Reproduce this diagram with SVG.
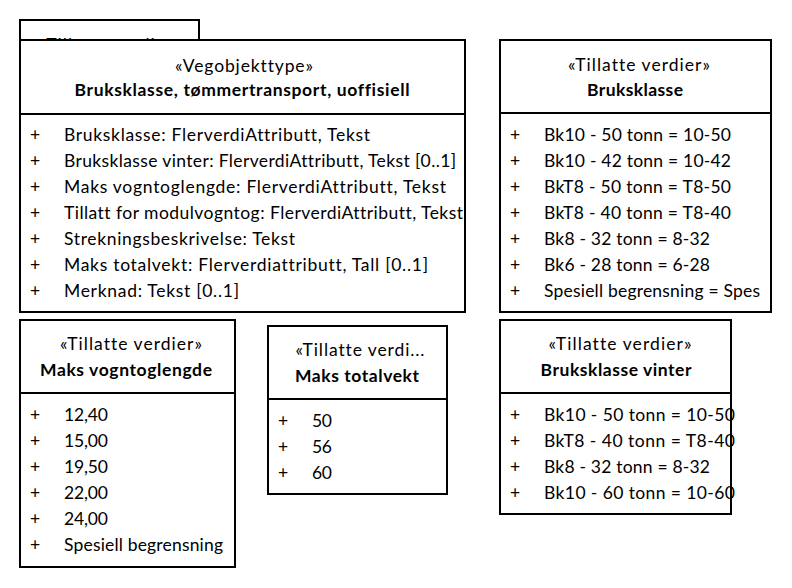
<svg xmlns="http://www.w3.org/2000/svg" width="792" height="588" viewBox="0 0 792 588">
  <style>
    .box { fill: #ffffff; stroke: #000000; stroke-width: 2; }
    .div { stroke: #000000; stroke-width: 2; }
    text { font-family: Lato, "Open Sans", "Liberation Sans", sans-serif; font-size: 17.5px; fill: #000000;
           font-variant-ligatures: none; font-feature-settings: "liga" 0, "clig" 0, "dlig" 0; }
    .st { text-anchor: middle; }
    .nm { text-anchor: middle; font-weight: bold; }
    .pl { text-anchor: middle; }
  </style>
  <rect width="792" height="588" fill="#ffffff"/>

  <!-- Enumeration partly hidden behind the main class -->
  <g id="tillatte-bak">
    <rect class="box" x="20" y="20" width="179" height="60"/>
    <text class="st" x="110" y="51" textLength="142">«Tillatte verdier»</text>
  </g>

  <!-- Main class -->
  <g id="bruksklasse-tommertransport">
    <rect class="box" x="20" y="40" width="445" height="272"/>
    <line class="div" x1="20" y1="114" x2="465" y2="114"/>
    <text class="st" x="244" y="72" textLength="138">«Vegobjekttype»</text>
    <text class="nm" x="242" y="96" textLength="335">Bruksklasse, tømmertransport, uoffisiell</text>
    <text class="pl" x="35" y="141">+</text>
    <text x="64" y="141" textLength="306">Bruksklasse: FlerverdiAttributt, Tekst</text>
    <text class="pl" x="35" y="167">+</text>
    <text x="64" y="167" textLength="392">Bruksklasse vinter: FlerverdiAttributt, Tekst [0..1]</text>
    <text class="pl" x="35" y="193">+</text>
    <text x="64" y="193" textLength="382">Maks vogntoglengde: FlerverdiAttributt, Tekst</text>
    <text class="pl" x="35" y="219">+</text>
    <text x="64" y="219" textLength="399">Tillatt for modulvogntog: FlerverdiAttributt, Tekst</text>
    <text class="pl" x="35" y="245">+</text>
    <text x="64" y="245" textLength="231">Strekningsbeskrivelse: Tekst</text>
    <text class="pl" x="35" y="271">+</text>
    <text x="64" y="271" textLength="364">Maks totalvekt: Flerverdiattributt, Tall [0..1]</text>
    <text class="pl" x="35" y="297">+</text>
    <text x="64" y="297" textLength="175">Merknad: Tekst [0..1]</text>
  </g>

  <!-- Bruksklasse values -->
  <g id="bruksklasse">
    <rect class="box" x="500" y="40" width="271" height="272"/>
    <line class="div" x1="500" y1="113" x2="771" y2="113"/>
    <text class="st" x="639" y="71" textLength="142">«Tillatte verdier»</text>
    <text class="nm" x="635" y="96" textLength="96">Bruksklasse</text>
    <text class="pl" x="515" y="141">+</text>
    <text x="544" y="141" textLength="187">Bk10 - 50 tonn = 10-50</text>
    <text class="pl" x="515" y="167">+</text>
    <text x="544" y="167" textLength="187">Bk10 - 42 tonn = 10-42</text>
    <text class="pl" x="515" y="193">+</text>
    <text x="544" y="193" textLength="187">BkT8 - 50 tonn = T8-50</text>
    <text class="pl" x="515" y="219">+</text>
    <text x="544" y="219" textLength="187">BkT8 - 40 tonn = T8-40</text>
    <text class="pl" x="515" y="245">+</text>
    <text x="544" y="245" textLength="166">Bk8 - 32 tonn = 8-32</text>
    <text class="pl" x="515" y="271">+</text>
    <text x="544" y="271" textLength="166">Bk6 - 28 tonn = 6-28</text>
    <text class="pl" x="515" y="297">+</text>
    <text x="544" y="297" textLength="216">Spesiell begrensning = Spes</text>
  </g>

  <!-- Maks vogntoglengde values -->
  <g id="maks-vogntoglengde">
    <rect class="box" x="20" y="320" width="215" height="247"/>
    <line class="div" x1="20" y1="393" x2="235" y2="393"/>
    <text class="st" x="131" y="350" textLength="142">«Tillatte verdier»</text>
    <text class="nm" x="126" y="376" textLength="172">Maks vogntoglengde</text>
    <text class="pl" x="35" y="421">+</text>
    <text x="64" y="421" textLength="44">12,40</text>
    <text class="pl" x="35" y="447">+</text>
    <text x="64" y="447" textLength="44">15,00</text>
    <text class="pl" x="35" y="473">+</text>
    <text x="64" y="473" textLength="44">19,50</text>
    <text class="pl" x="35" y="499">+</text>
    <text x="64" y="499" textLength="44">22,00</text>
    <text class="pl" x="35" y="525">+</text>
    <text x="64" y="525" textLength="44">24,00</text>
    <text class="pl" x="35" y="551">+</text>
    <text x="64" y="551" textLength="159">Spesiell begrensning</text>
  </g>

  <!-- Maks totalvekt values -->
  <g id="maks-totalvekt">
    <rect class="box" x="268" y="326" width="179" height="168"/>
    <line class="div" x1="268" y1="399" x2="447" y2="399"/>
    <text class="st" x="360" y="356" textLength="129">«Tillatte verdi...</text>
    <text class="nm" x="357" y="382" textLength="124">Maks totalvekt</text>
    <text class="pl" x="283" y="427">+</text>
    <text x="312" y="427" textLength="20">50</text>
    <text class="pl" x="283" y="453">+</text>
    <text x="312" y="453" textLength="20">56</text>
    <text class="pl" x="283" y="479">+</text>
    <text x="312" y="479" textLength="20">60</text>
  </g>

  <!-- Bruksklasse vinter values -->
  <g id="bruksklasse-vinter">
    <rect class="box" x="500" y="320" width="231" height="194"/>
    <line class="div" x1="500" y1="393" x2="731" y2="393"/>
    <text class="st" x="620" y="350" textLength="143">«Tillatte verdier»</text>
    <text class="nm" x="616" y="376" textLength="151">Bruksklasse vinter</text>
    <text class="pl" x="515" y="421">+</text>
    <text x="544" y="421" textLength="191">Bk10 - 50 tonn = 10-50</text>
    <text class="pl" x="515" y="447">+</text>
    <text x="544" y="447" textLength="191">BkT8 - 40 tonn = T8-40</text>
    <text class="pl" x="515" y="473">+</text>
    <text x="544" y="473" textLength="166">Bk8 - 32 tonn = 8-32</text>
    <text class="pl" x="515" y="499">+</text>
    <text x="544" y="499" textLength="191">Bk10 - 60 tonn = 10-60</text>
  </g>

  <g id="connectors"/>
</svg>
